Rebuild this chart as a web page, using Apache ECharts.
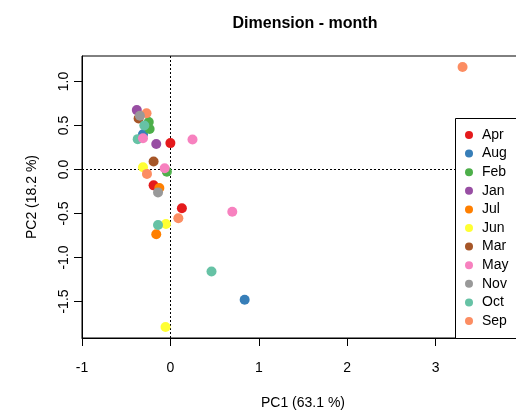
<!DOCTYPE html>
<html>
<head>
<meta charset="utf-8">
<script src="https://cdn.jsdelivr.net/npm/echarts@6/dist/echarts.min.js"></script>
<style>html,body{margin:0;padding:0;background:#fff}#c{width:516px;height:414px}</style>
</head>
<body>
<div id="c"></div>
<script>
var legendOrder = ['Apr','Aug','Feb','Jan','Jul','Jun','Mar','May','Nov','Oct','Sep'];
var drawOrder = ['Apr','Aug','Feb','Jan','Jul','Jun','Mar','Oct','May','Sep','Nov'];
var monthColors = {Apr:'#E41A1C',Aug:'#377EB8',Feb:'#4DAF4A',Jan:'#984EA3',Jul:'#FF7F00',Jun:'#FFFF33',Mar:'#A65628',May:'#F781BF',Nov:'#999999',Oct:'#66C2A5',Sep:'#FC8D62'};

var Apr = [[0.0,0.30],[-0.19,-0.18],[0.13,-0.44]];
var Aug = [[-0.31,0.40],[0.84,-1.48]];
var Feb = [[-0.245,0.54],[-0.235,0.46],[-0.04,-0.025]];
var Jan = [[-0.38,0.675],[-0.16,0.29]];
var Jul = [[-0.125,-0.21],[-0.16,-0.735]];
var Jun = [[-0.31,0.025],[-0.05,-0.62],[-0.055,-1.79]];
var Mar = [[-0.36,0.58],[-0.19,0.09]];
var May = [[-0.31,0.355],[0.25,0.34],[-0.065,0.015],[0.70,-0.48]];
var Nov = [[-0.345,0.61],[-0.14,-0.26]];
var Oct = [[-0.295,0.50],[-0.37,0.345],[-0.14,-0.63],[0.465,-1.16]];
var Sep = [[3.305,1.165],[-0.27,0.64],[-0.265,-0.05],[0.09,-0.555]];
var monthData = {Apr:Apr,Aug:Aug,Feb:Feb,Jan:Jan,Jul:Jul,Jun:Jun,Mar:Mar,May:May,Nov:Nov,Oct:Oct,Sep:Sep};

var xTicks = [-1,0,1,2,3];
var yTicks = [-1.5,-1,-0.5,0,0.5,1];

var font = 'Liberation Sans, Arial, sans-serif';
var series = drawOrder.map(function(m, i){
  var s = {
    name: m, type: 'scatter', data: monthData[m], symbol: 'circle', symbolSize: 10,
    itemStyle: {color: monthColors[m], opacity: 1}, z: 2
  };
  if (i === 0) {
    s.markLine = {
      silent: true, symbol: ['none','none'], label: {show: false}, animation: false, z: 1,
      lineStyle: {color: '#000', type: [2,2], width: 1, opacity: 1},
      data: [{xAxis: 0}, {yAxis: 0}]
    };
  }
  return s;
});

var chart = echarts.init(document.getElementById('c'), null, {renderer: 'canvas'});
chart.setOption({
  animation: false,
  backgroundColor: '#fff',
  color: legendOrder.map(function(m){return monthColors[m];}),
  title: {
    text: 'Dimension - month', left: 300, top: 11, textAlign: 'center',
    textStyle: {fontFamily: font, fontSize: 16, fontWeight: 'bold', color: '#000'}
  },
  grid: {left: 82, top: 56, bottom: 76, right: -8, outerBoundsMode: 'none', containLabel: false, show: true, borderColor: '#000', borderWidth: 1, backgroundColor: 'transparent'},
  xAxis: {
    type: 'value', min: -1, max: 4,
    name: 'PC1 (63.1 %)', nameLocation: 'middle', nameGap: 58,
    nameTextStyle: {fontFamily: font, fontSize: 14, color: '#000'},
    axisLine: {show: true, onZero: false, lineStyle: {color: '#000'}},
    axisTick: {show: true, length: 8, customValues: xTicks, lineStyle: {color: '#000'}},
    axisLabel: {customValues: xTicks, margin: 23, fontFamily: font, fontSize: 14, color: '#000', formatter: function(v){return String(v);}},
    splitLine: {show: false}
  },
  yAxis: {
    type: 'value', min: -1.915, max: 1.29,
    name: 'PC2 (18.2 %)', nameLocation: 'middle', nameGap: 43, nameRotate: 90,
    nameTextStyle: {fontFamily: font, fontSize: 14, color: '#000'},
    axisLine: {show: true, onZero: false, lineStyle: {color: '#000'}},
    axisTick: {show: true, length: 8, customValues: yTicks, lineStyle: {color: '#000'}},
    axisLabel: {customValues: yTicks, rotate: 90, margin: 11, fontFamily: font, fontSize: 14, color: '#000', formatter: function(v){return v.toFixed(1);}},
    splitLine: {show: false}
  },
  graphic: [{
    type: 'rect', left: 455, top: 118, z: 3,
    shape: {width: 100, height: 220},
    style: {fill: '#fff', stroke: '#000', lineWidth: 1}
  }],
  legend: {
    data: legendOrder, orient: 'vertical', left: 465, top: 128, padding: 0,
    icon: 'circle', itemWidth: 8, itemHeight: 8, itemGap: 4.6, z: 5,
    textStyle: {fontFamily: font, fontSize: 14, color: '#000', lineHeight: 14, padding: [0,0,0,4]}
  },
  series: series
});
</script>
</body>
</html>
